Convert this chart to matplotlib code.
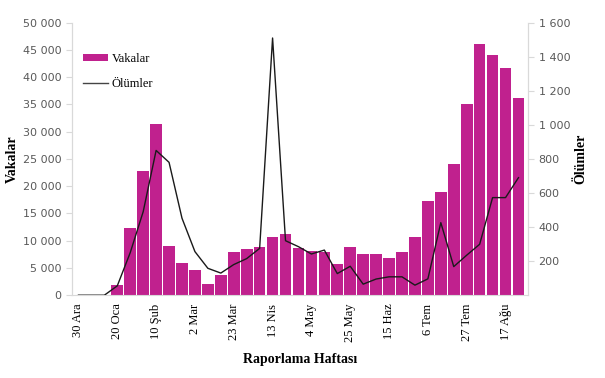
import matplotlib
matplotlib.use("Agg")
import matplotlib.pyplot as plt
import numpy as np

# haftalar (30 Ara - 24 Ağu)
haftalar = ['30 Ara', '6 Oca', '13 Oca', '20 Oca', '27 Oca', '3 Şub', '10 Şub', '17 Şub',
            '24 Şub', '2 Mar', '9 Mar', '16 Mar', '23 Mar', '30 Mar', '6 Nis', '13 Nis',
            '20 Nis', '27 Nis', '4 May', '11 May', '18 May', '25 May', '1 Haz', '8 Haz',
            '15 Haz', '22 Haz', '29 Haz', '6 Tem', '13 Tem', '20 Tem', '27 Tem', '3 Ağu',
            '10 Ağu', '17 Ağu', '24 Ağu']
vakalar = [0, 0, 0, 1800, 12400, 22850, 31400, 9000, 6000, 4550, 2000, 3700, 7900, 8460,
           8820, 10700, 11300, 8650, 8100, 7970, 5730, 8820, 7540, 7540, 6800, 7970, 10660,
           17280, 18870, 24140, 35110, 46140, 44000, 41670, 36270]
olumler = [0, 0, 0, 55, 250, 490, 850, 780, 452, 256, 158, 130, 180, 215, 275, 1510, 320,
           285, 242, 265, 127, 170, 65, 95, 108, 108, 59, 96, 426, 168, 235, 299, 573, 573, 690]

fig = plt.figure(figsize=(6.05, 3.78), dpi=100)
ax = fig.add_axes([0.119, 0.219, 0.754, 0.721])
ax2 = ax.twinx()

x = np.arange(len(haftalar))
gri = '#D9D9D9'
serif = 'Liberation Serif'

b = ax.bar(x, vakalar, width=0.9, color='#C0218E', label='Vakalar', zorder=2)
l, = ax2.plot(x, olumler, color='#1a1a1a', lw=1.0, label='Ölümler', zorder=3)

ax.set_xlim(-0.5, 34.75)
ax.set_ylim(0, 50000)
ax2.set_ylim(0, 1600)
ax.set_yticks(np.arange(0, 50001, 5000))
ax.set_yticklabels([f'{v:,}'.replace(',', ' ') for v in range(0, 50001, 5000)])
ax2.set_yticks(np.arange(200, 1601, 200))
ax2.set_yticklabels([f'{v:,}'.replace(',', ' ') for v in range(200, 1601, 200)])

ax.set_xticks(x[::3])
ax.set_xticklabels(haftalar[::3], rotation=90, family=serif, fontsize=9)
ax.tick_params(axis='x', length=0, pad=6)
ax.tick_params(axis='y', colors=gri, labelcolor='#595959', labelsize=8, length=4)
ax2.tick_params(axis='y', colors=gri, labelcolor='#595959', labelsize=8, length=4)

for a in (ax, ax2):
    a.spines['top'].set_visible(False)
    for s in ('left', 'right', 'bottom'):
        a.spines[s].set_color(gri)
ax2.spines['bottom'].set_visible(False)
ax.set_zorder(ax2.get_zorder() - 1)
ax.patch.set_visible(False)

ax.set_ylabel('Vakalar', family=serif, fontweight='bold', fontsize=10, labelpad=3)
ax2.set_ylabel('Ölümler', family=serif, fontweight='bold', fontsize=10, labelpad=3)
ax.set_xlabel('Raporlama Haftası', family=serif, fontweight='bold', fontsize=10, labelpad=8)

ax2.legend([b, l], ['Vakalar', 'Ölümler'], loc='upper left', bbox_to_anchor=(0.0, 0.93),
           frameon=False, prop={'family': serif, 'size': 9}, handlelength=2.0,
           handleheight=0.5, handletextpad=0.3, labelspacing=1.0)
leg = ax2.get_legend()
leg.get_lines()[0].set_color('#444444')

fig.savefig('out.png', dpi=100)
